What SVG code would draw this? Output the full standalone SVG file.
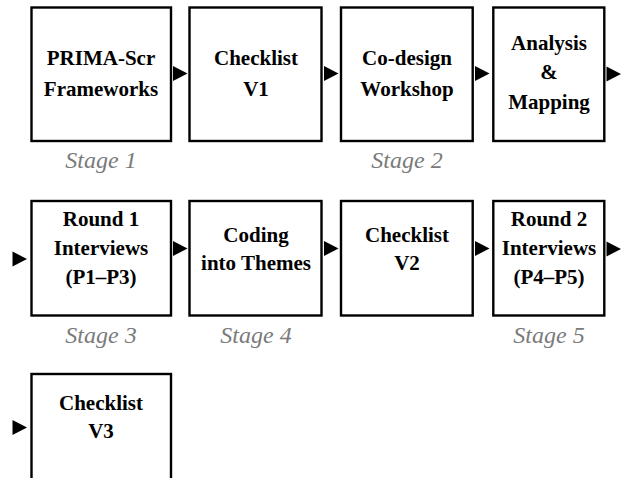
<svg xmlns="http://www.w3.org/2000/svg" width="622" height="478" viewBox="0 0 622 478">
<style>
.box{fill:#fff;stroke:#000;stroke-width:2.4}
.t{font-family:"Liberation Serif","Times New Roman",serif;font-weight:bold;font-size:21px;fill:#000;text-anchor:middle}
.st{font-family:"Liberation Serif","Times New Roman",serif;font-style:italic;font-size:24px;fill:#7a7a7a;text-anchor:middle}
.ar{fill:#000}
</style>
<rect width="622" height="478" fill="#fff"/>
<g id="n1"><rect class="box" x="31.5" y="7.5" width="139.5" height="133.5"/><text class="t" x="101" y="65">PRIMA-Scr</text><text class="t" x="101" y="96">Frameworks</text></g>
<g id="n2"><rect class="box" x="189.5" y="7.5" width="132" height="133.5"/><text class="t" x="256" y="65">Checklist</text><text class="t" x="256" y="96">V1</text></g>
<g id="n3"><rect class="box" x="341" y="7.5" width="131.7" height="133.5"/><text class="t" x="407" y="65">Co-design</text><text class="t" x="407" y="96">Workshop</text></g>
<g id="n4"><rect class="box" x="493.3" y="7.5" width="111" height="133.5"/><text class="t" x="549" y="50">Analysis</text><text class="t" x="549" y="79">&amp;</text><text class="t" x="549" y="109">Mapping</text></g>
<g id="n5"><rect class="box" x="31.5" y="201" width="139.5" height="114.5"/><text class="t" x="101" y="226">Round 1</text><text class="t" x="101" y="255">Interviews</text><text class="t" x="101" y="284">(P1–P3)</text></g>
<g id="n6"><rect class="box" x="189.5" y="201" width="132" height="114.5"/><text class="t" x="256" y="241.5">Coding</text><text class="t" x="256" y="269.5">into Themes</text></g>
<g id="n7"><rect class="box" x="341" y="201" width="131.7" height="114.5"/><text class="t" x="407" y="241.5">Checklist</text><text class="t" x="407" y="269.5">V2</text></g>
<g id="n8"><rect class="box" x="493.3" y="201" width="111" height="114.5"/><text class="t" x="549" y="226">Round 2</text><text class="t" x="549" y="255">Interviews</text><text class="t" x="549" y="284">(P4–P5)</text></g>
<g id="n9"><rect class="box" x="31.5" y="374" width="139.5" height="116"/><text class="t" x="101" y="410">Checklist</text><text class="t" x="101" y="437.5">V3</text></g>
<g id="labels">
<text class="st" x="101" y="168">Stage 1</text>
<text class="st" x="407" y="168">Stage 2</text>
<text class="st" x="101" y="342.5">Stage 3</text>
<text class="st" x="256" y="342.5">Stage 4</text>
<text class="st" x="549" y="342.5">Stage 5</text>
</g>
<g id="connectors">
<polygon class="ar" points="173,66 187.5,73.5 173,81"/>
<polygon class="ar" points="324,66 338.5,73.5 324,81"/>
<polygon class="ar" points="475,66 489.5,73.5 475,81"/>
<polygon class="ar" points="606.5,66.5 621,74 606.5,81.5"/>
<polygon class="ar" points="12.5,251.5 27,259 12.5,266.5"/>
<polygon class="ar" points="173,241 187.5,248.5 173,256"/>
<polygon class="ar" points="324,241 338.5,248.5 324,256"/>
<polygon class="ar" points="475,241 489.5,248.5 475,256"/>
<polygon class="ar" points="606.5,241.5 621,249 606.5,256.5"/>
<polygon class="ar" points="12.5,420 27,427.5 12.5,435"/>
</g>
</svg>
